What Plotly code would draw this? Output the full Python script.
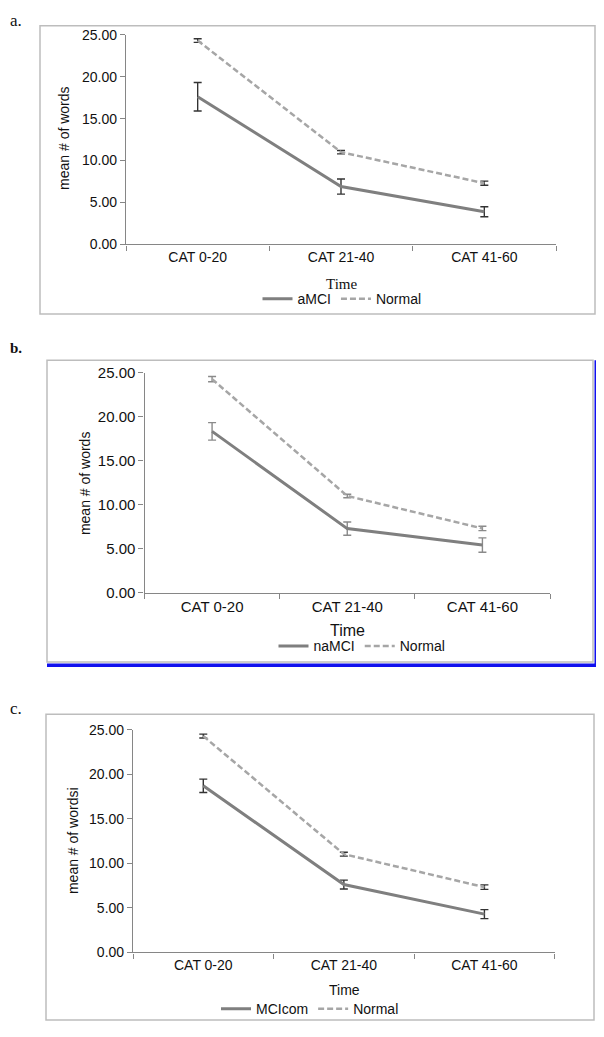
import plotly.graph_objects as go

# The page body has an 8px default margin, so the figure is sized to fit the
# 604x1037 window exactly and all layout positions are given in page pixels.
PAGE_W, PAGE_H = 604, 1037
OFF = 8
W, H = PAGE_W - 2 * OFF, PAGE_H - 2 * OFF

categories = ["CAT 0-20", "CAT 21-40", "CAT 41-60"]
y_ticks = [0, 5, 10, 15, 20, 25]

normal_a = [24.3, 11.0, 7.3]
normal_a_err = [0.22, 0.2, 0.25]
amci = [17.6, 6.9, 3.9]
amci_err = [1.7, 0.9, 0.6]

normal_b = [24.3, 11.0, 7.3]
normal_b_err = [0.3, 0.2, 0.25]
namci = [18.35, 7.28, 5.41]
namci_err = [1.0, 0.76, 0.82]

normal_c = [24.28, 11.03, 7.33]
normal_c_err = [0.22, 0.22, 0.25]
mcicom = [18.7, 7.62, 4.3]
mcicom_err = [0.75, 0.5, 0.5]

panel_names = ["aMCI", "naMCI", "MCIcom"]
y_titles = ["mean # of words", "mean # of words", "mean # of wordsi"]


def px(x):
    return (x - OFF) / W


def py(y):
    return 1 - (y - OFF) / H


SOLID = "#7f7f7f"
DASH = "#a6a6a6"
FONT = "Liberation Sans"

fig = go.Figure()

panels = [
    dict(mci=amci, mci_err=amci_err, nor=normal_a, nor_err=normal_a_err,
         xd=(126, 556), yd=(26, 239.3), errc="#333333", tick=14),
    dict(mci=namci, mci_err=namci_err, nor=normal_b, nor_err=normal_b_err,
         xd=(144.5, 550), yd=(370, 593.3), errc="#8a8a8a", tick=15),
    dict(mci=mcicom, mci_err=mcicom_err, nor=normal_c, nor_err=normal_c_err,
         xd=(133, 554.7), yd=(732.7, 959.3), errc="#333333", tick=14),
]

for i, p in enumerate(panels):
    sfx = "" if i == 0 else str(i + 1)
    leg = "legend" if i == 0 else f"legend{i + 1}"
    fig.add_trace(go.Scatter(
        x=categories, y=p["mci"], name=panel_names[i], mode="lines",
        line=dict(color=SOLID, width=3),
        error_y=dict(type="data", array=p["mci_err"], color=p["errc"],
                     thickness=1.4, width=4),
        xaxis="x" + sfx, yaxis="y" + sfx, legend=leg,
    ))
    fig.add_trace(go.Scatter(
        x=categories, y=p["nor"], name="Normal", mode="lines",
        line=dict(color=DASH, width=2.5, dash="6px,3px"),
        error_y=dict(type="data", array=p["nor_err"], color=p["errc"],
                     thickness=1.4, width=4),
        xaxis="x" + sfx, yaxis="y" + sfx, legend=leg,
    ))
    xa = dict(
        domain=[px(p["xd"][0]), px(p["xd"][1])],
        anchor="y" + sfx, type="category", range=[-0.5, 2.5],
        showline=True, linecolor="#868686", linewidth=1.2,
        ticks="outside", tickson="boundaries", ticklen=5, tickcolor="#868686",
        showgrid=False, zeroline=False,
        tickfont=dict(family=FONT, size=p["tick"], color="#111"),
        fixedrange=True,
    )
    ya = dict(
        domain=[py(p["yd"][1]), py(p["yd"][0])],
        anchor="x" + sfx, range=[0, 25],
        tickvals=y_ticks, tickformat=".2f",
        showline=True, linecolor="#868686", linewidth=1.2,
        ticks="outside", ticklen=5, tickcolor="#868686",
        showgrid=False, zeroline=False,
        tickfont=dict(family=FONT, size=p["tick"], color="#111"),
        fixedrange=True,
    )
    fig.update_layout(**{"xaxis" + sfx: xa, "yaxis" + sfx: ya})

shapes = [
    dict(type="rect", xref="paper", yref="paper", x0=px(40), x1=px(595),
         y0=py(310), y1=py(17), line=dict(color="#bdbdbd", width=1.5)),
    dict(type="rect", xref="paper", yref="paper", x0=px(47), x1=px(593),
         y0=py(664), y1=py(357), line=dict(color="#bdbdbd", width=1.5)),
    dict(type="rect", xref="paper", yref="paper", x0=px(46), x1=px(594),
         y0=py(1028), y1=py(717), line=dict(color="#bdbdbd", width=1.5)),
    # blue strips on panel b
    dict(type="rect", xref="paper", yref="paper", x0=px(47), x1=px(597.5),
         y0=py(669), y1=py(665.5), fillcolor="#1010ee", line=dict(width=0)),
    dict(type="rect", xref="paper", yref="paper", x0=px(594.5), x1=px(597.5),
         y0=py(669), y1=py(357), fillcolor="#1010ee", line=dict(width=0)),
]

annotations = [
    dict(text="a.", x=px(8), y=py(12), xanchor="left", yanchor="middle",
         font=dict(family="Liberation Serif", size=17, color="#111")),
    dict(text="<b>b.</b>", x=px(8), y=py(345), xanchor="left", yanchor="middle",
         font=dict(family="Liberation Serif", size=15, color="#111")),
    dict(text="c.", x=px(8), y=py(711), xanchor="left", yanchor="middle",
         font=dict(family="Liberation Serif", size=17, color="#111")),
    dict(text="Time", x=px(341), y=py(280), xanchor="center", yanchor="middle",
         font=dict(family="Liberation Serif", size=15, color="#111")),
    dict(text="Time", x=px(347), y=py(632), xanchor="center", yanchor="middle",
         font=dict(family=FONT, size=16, color="#111")),
    dict(text="Time", x=px(344), y=py(997), xanchor="center", yanchor="middle",
         font=dict(family=FONT, size=14, color="#111")),
    dict(text=y_titles[0], x=px(64), y=py(131), textangle=-90,
         xanchor="center", yanchor="middle",
         font=dict(family=FONT, size=14, color="#111")),
    dict(text=y_titles[1], x=px(85), y=py(482), textangle=-90,
         xanchor="center", yanchor="middle",
         font=dict(family=FONT, size=14, color="#111")),
    dict(text=y_titles[2], x=px(73), y=py(846), textangle=-90,
         xanchor="center", yanchor="middle",
         font=dict(family=FONT, size=14, color="#111")),
]
for a in annotations:
    a.update(xref="paper", yref="paper", showarrow=False)


def legend_cfg(xc, yc, size):
    return dict(
        orientation="h", x=px(xc), y=py(yc), xanchor="center", yanchor="middle",
        xref="paper", yref="paper", bgcolor="rgba(0,0,0,0)",
        font=dict(family=FONT, size=size, color="#111"),
        itemwidth=30, tracegroupgap=0,
    )


fig.update_layout(
    width=W, height=H,
    margin=dict(l=0, r=0, t=0, b=0),
    paper_bgcolor="white", plot_bgcolor="white",
    shapes=shapes, annotations=annotations,
    legend=legend_cfg(342, 295, 14),
    legend2=legend_cfg(362, 648, 14),
    legend3=legend_cfg(310, 1017, 14),
    showlegend=True,
)

fig.write_html("out.html")
